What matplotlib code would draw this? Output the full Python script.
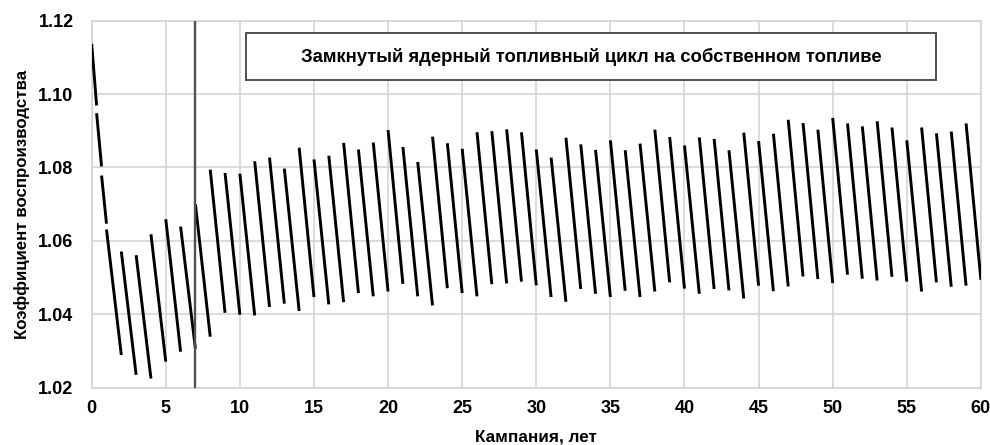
import matplotlib
matplotlib.use("Agg")
import matplotlib.pyplot as plt
from matplotlib.patches import Rectangle

plt.rcParams['font.family'] = ['Liberation Sans', 'DejaVu Sans']

# Campaign boundaries (years)
seg_start = [0, 0.333, 0.667] + list(range(1, 60))
seg_end = [0.333, 0.667, 1] + list(range(2, 61))

# Breeding ratio at start and end of each campaign
kv_begin = [1.1137, 1.0948, 1.0778, 1.0631, 1.0571, 1.0561, 1.0618, 1.0659, 1.0639,
            1.0700, 1.0794, 1.0785, 1.0783, 1.0817, 1.0827, 1.0797, 1.0854, 1.0822,
            1.0832, 1.0867, 1.0849, 1.0868, 1.0902, 1.0856, 1.0815, 1.0884, 1.0866,
            1.0851, 1.0896, 1.0899, 1.0904, 1.0896, 1.0849, 1.0827, 1.0881, 1.0863,
            1.0848, 1.0874, 1.0847, 1.0865, 1.0903, 1.0883, 1.0860, 1.0882, 1.0878,
            1.0847, 1.0895, 1.0872, 1.0892, 1.0930, 1.0921, 1.0903, 1.0935, 1.0920,
            1.0912, 1.0926, 1.0909, 1.0874, 1.0909, 1.0893, 1.0898, 1.0920]
kv_end = [1.0969, 1.0803, 1.0647, 1.0289, 1.0235, 1.0225, 1.0271, 1.0298, 1.0306,
          1.0339, 1.0404, 1.0399, 1.0397, 1.0420, 1.0429, 1.0409, 1.0447, 1.0427,
          1.0433, 1.0458, 1.0449, 1.0462, 1.0483, 1.0449, 1.0424, 1.0471, 1.0458,
          1.0449, 1.0482, 1.0484, 1.0489, 1.0479, 1.0447, 1.0434, 1.0469, 1.0456,
          1.0447, 1.0464, 1.0447, 1.0462, 1.0487, 1.0470, 1.0456, 1.0469, 1.0465,
          1.0443, 1.0478, 1.0463, 1.0476, 1.0503, 1.0496, 1.0485, 1.0508, 1.0497,
          1.0492, 1.0502, 1.0489, 1.0462, 1.0487, 1.0475, 1.0478, 1.0494]

x_ticks = list(range(0, 61, 5))
y_ticks = [1.02, 1.04, 1.06, 1.08, 1.10, 1.12]
marker_year = 7
box_text = "Замкнутый ядерный топливный цикл на собственном топливе"
x_label = "Кампания, лет"
y_label = "Коэффициент воспроизводства"

fig = plt.figure(figsize=(9.9, 4.45), dpi=100)
ax = fig.add_axes([0.0926, 0.1288, 0.9908 - 0.0926, 0.9535 - 0.1288])

for s, e, b, f in zip(seg_start, seg_end, kv_begin, kv_end):
    ax.plot([s, e], [b, f], color='black', lw=2.1, solid_capstyle='butt', zorder=3)

ax.axvline(marker_year, color='#505050', lw=1.7, zorder=4)

ax.set_xlim(0, 60)
ax.set_ylim(1.02, 1.12)
ax.set_xticks(x_ticks)
ax.set_yticks(y_ticks)
ax.set_yticklabels([f"{v:.2f}" for v in y_ticks])
ax.grid(True, color='#d2d2d2', lw=1.1, zorder=0)
ax.set_axisbelow(True)
for sp in ax.spines.values():
    sp.set_color('#d2d2d2')
    sp.set_linewidth(1.1)
ax.tick_params(length=0, labelsize=13)
ax.tick_params(axis='y', pad=13)
ax.tick_params(axis='x', pad=9)
for lab in ax.get_xticklabels() + ax.get_yticklabels():
    lab.set_fontweight('bold')

ax.set_xlabel(x_label, fontsize=12.3, fontweight='bold', labelpad=9)
ax.set_ylabel(y_label, fontsize=12.2, fontweight='bold', labelpad=6)

rect = Rectangle((10.41, 1.1038), 56.97 - 10.41, 1.1166 - 1.1038,
                 facecolor='white', edgecolor='#505050', lw=1.4, zorder=5)
ax.add_patch(rect)
ax.text((10.41 + 56.97) / 2, (1.1038 + 1.1166) / 2, box_text, ha='center', va='center',
        fontsize=13.3, fontweight='bold', zorder=6)

fig.savefig("out.png", dpi=100)
